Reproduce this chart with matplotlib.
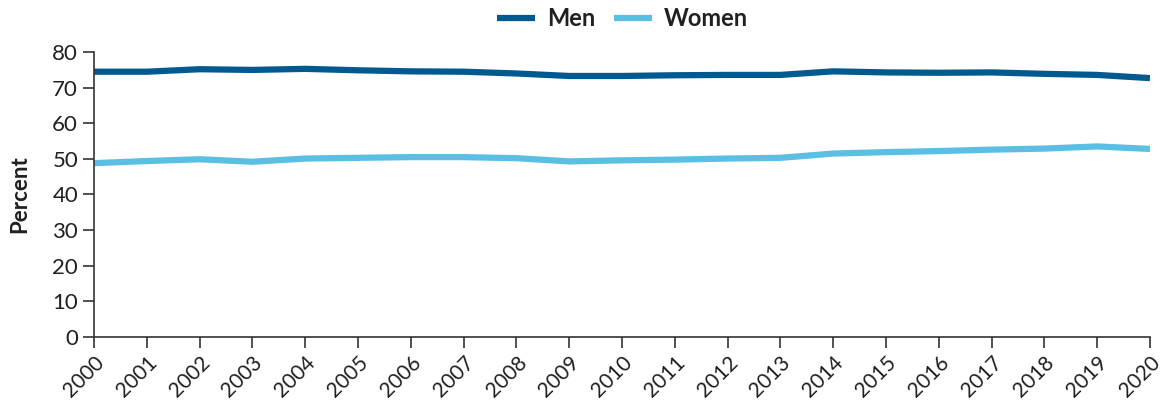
import matplotlib
matplotlib.use("Agg")
import matplotlib.pyplot as plt

years = list(range(2000, 2021))
men = [74.5, 74.5, 75.2, 75.0, 75.3, 74.9, 74.6, 74.5, 74.0, 73.3, 73.3,
       73.5, 73.6, 73.6, 74.6, 74.3, 74.2, 74.3, 73.9, 73.6, 72.7]
women = [48.8, 49.4, 49.9, 49.2, 50.1, 50.3, 50.5, 50.5, 50.2, 49.3, 49.6,
         49.8, 50.1, 50.3, 51.5, 51.9, 52.2, 52.6, 52.9, 53.5, 52.8]
yticks = [0, 10, 20, 30, 40, 50, 60, 70, 80]

plt.rcParams['font.family'] = ['Lato', 'DejaVu Sans']

fig = plt.figure(figsize=(11.61, 4.01), dpi=100)
ax = fig.add_axes([0.081, 0.160, 0.9095, 0.710])

ax.plot(years, men, color='#005A8F', lw=4.5, label='Men', solid_capstyle='butt')
ax.plot(years, women, color='#5BBEE3', lw=4.5, label='Women', solid_capstyle='butt')

ax.set_xlim(2000, 2020)
ax.set_ylim(0, 80)
ax.set_yticks(yticks)
ax.set_xticks(years)
ax.set_xticklabels([str(y) for y in years], rotation=45, ha='right',
                   rotation_mode='anchor', fontsize=15, color='#231F20')
ax.tick_params(axis='y', labelsize=16, labelcolor='#231F20', length=8, width=1.2, color='#333333')
ax.tick_params(axis='x', length=8, width=1.2, color='#333333', pad=3)
for s in ['top', 'right']:
    ax.spines[s].set_visible(False)
for s in ['left', 'bottom']:
    ax.spines[s].set_color('#333333')
    ax.spines[s].set_linewidth(1.2)

ax.set_ylabel('Percent', fontsize=16, fontweight='bold', color='#231F20', labelpad=16)

leg = fig.legend(loc='upper center', bbox_to_anchor=(0.536, 1.035), ncol=2, frameon=False,
                 prop={'size': 17, 'weight': 'bold'}, handlelength=1.6, columnspacing=0.8,
                 handletextpad=0.5)
for t in leg.get_texts():
    t.set_color('#231F20')

fig.savefig('out.png', dpi=100)
